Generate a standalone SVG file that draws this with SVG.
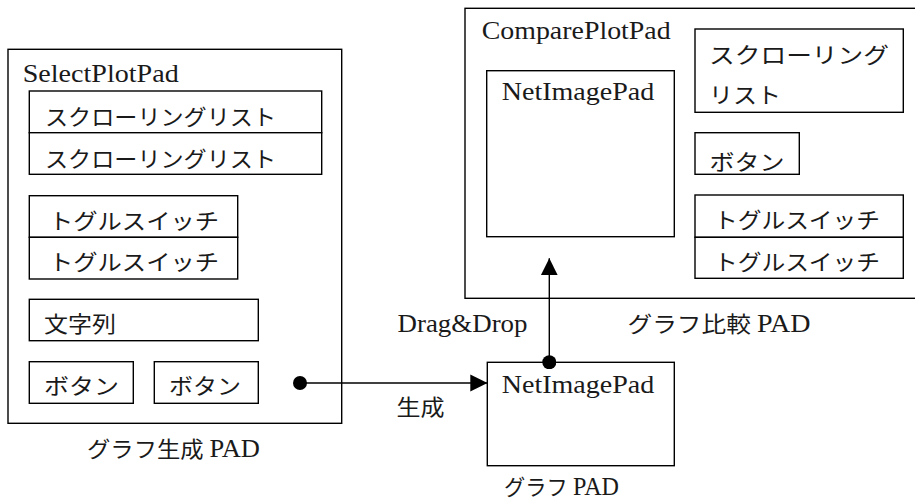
<svg xmlns="http://www.w3.org/2000/svg" width="915" height="501" viewBox="0 0 915 501">
  <style>
    .box { fill: #fff; stroke: #000; stroke-width: 1.4; }
    .frame { fill: none; stroke: #000; stroke-width: 1.4; }
    .wire { fill: none; stroke: #000; stroke-width: 1.4; }
    text { font-family: "Liberation Serif", "Noto Sans CJK JP", serif; font-size: 22px; fill: #1a1a1a; }
    .lat { font-size: 25px; }
  </style>
  <defs>
    <marker id="tip" viewBox="0 0 10 10" refX="10" refY="5" markerWidth="17" markerHeight="18" markerUnits="userSpaceOnUse" orient="auto">
      <path d="M0,0 L10,5 L0,10 Z" fill="#000"/>
    </marker>
    <marker id="dot" viewBox="0 0 10 10" refX="5" refY="5" markerWidth="14" markerHeight="14" markerUnits="userSpaceOnUse">
      <circle cx="5" cy="5" r="5" fill="#000"/>
    </marker>
  </defs>
  <rect width="915" height="501" fill="#fff"/>

  <!-- graph creation pad -->
  <g id="select-plot-pad">
    <rect class="frame" x="8" y="49.3" width="333.7" height="374"/>
    <text class="lat" x="22.7" y="81.7" textLength="156" lengthAdjust="spacingAndGlyphs">SelectPlotPad</text>
    <g id="scroll-list-1">
      <rect class="box" x="29.3" y="91" width="292.4" height="41.7"/>
      <text x="45" y="125" textLength="231" lengthAdjust="spacingAndGlyphs">スクローリングリスト</text>
    </g>
    <g id="scroll-list-2">
      <rect class="box" x="29.3" y="132.7" width="292.4" height="41.6"/>
      <text x="45" y="166.5" textLength="231" lengthAdjust="spacingAndGlyphs">スクローリングリスト</text>
    </g>
    <g id="toggle-1">
      <rect class="box" x="29.3" y="195.7" width="208.4" height="41.6"/>
      <text x="49" y="229" textLength="170" lengthAdjust="spacingAndGlyphs">トグルスイッチ</text>
    </g>
    <g id="toggle-2">
      <rect class="box" x="29.3" y="237.3" width="208.4" height="41.7"/>
      <text x="49" y="270" textLength="170" lengthAdjust="spacingAndGlyphs">トグルスイッチ</text>
    </g>
    <g id="string-field">
      <rect class="box" x="29.3" y="299.3" width="229" height="41.4"/>
      <text x="44" y="332" textLength="72" lengthAdjust="spacingAndGlyphs">文字列</text>
    </g>
    <g id="button-1">
      <rect class="box" x="29.3" y="361.7" width="104" height="41.6"/>
      <text x="44" y="394" textLength="75" lengthAdjust="spacingAndGlyphs">ボタン</text>
    </g>
    <g id="button-2">
      <rect class="box" x="154.3" y="361.7" width="104" height="41.6"/>
      <text x="169" y="394" textLength="72" lengthAdjust="spacingAndGlyphs">ボタン</text>
    </g>
    <text x="87" y="456.7" textLength="173" lengthAdjust="spacingAndGlyphs">グラフ生成 <tspan class="lat">PAD</tspan></text>
  </g>

  <!-- graph comparison pad -->
  <g id="compare-plot-pad">
    <rect class="frame" x="465" y="8.3" width="460" height="290"/>
    <text class="lat" x="481.7" y="39.3" textLength="189" lengthAdjust="spacingAndGlyphs">ComparePlotPad</text>
    <g id="compare-net-image-pad">
      <rect class="box" x="486.7" y="70.7" width="187.6" height="166"/>
      <text class="lat" x="501.7" y="100" textLength="152.6" lengthAdjust="spacingAndGlyphs">NetImagePad</text>
    </g>
    <g id="compare-scroll-list">
      <rect class="box" x="695" y="29" width="208.3" height="83.3"/>
      <text x="709" y="63" textLength="180" lengthAdjust="spacingAndGlyphs">スクローリング</text>
      <text x="709" y="103" textLength="72" lengthAdjust="spacingAndGlyphs">リスト</text>
    </g>
    <g id="compare-button">
      <rect class="box" x="695" y="132.7" width="104.3" height="41.6"/>
      <text x="709.5" y="170" textLength="75" lengthAdjust="spacingAndGlyphs">ボタン</text>
    </g>
    <g id="compare-toggle-1">
      <rect class="box" x="695" y="195" width="208.3" height="42.3"/>
      <text x="714" y="228" textLength="166" lengthAdjust="spacingAndGlyphs">トグルスイッチ</text>
    </g>
    <g id="compare-toggle-2">
      <rect class="box" x="695" y="237.3" width="208.3" height="41"/>
      <text x="714" y="269.5" textLength="166" lengthAdjust="spacingAndGlyphs">トグルスイッチ</text>
    </g>
    <text x="627.5" y="331.7" textLength="183" lengthAdjust="spacingAndGlyphs">グラフ比較 <tspan class="lat">PAD</tspan></text>
  </g>

  <!-- single graph pad -->
  <g id="graph-pad">
    <rect class="box" x="487.3" y="362.3" width="187" height="103.4"/>
    <text class="lat" x="501.7" y="393.3" textLength="152.6" lengthAdjust="spacingAndGlyphs">NetImagePad</text>
    <text x="504" y="495" textLength="115" lengthAdjust="spacingAndGlyphs">グラフ <tspan class="lat">PAD</tspan></text>
  </g>

  <!-- connectors -->
  <g id="connectors">
    <g id="create-link">
      <line class="wire" x1="300" y1="383" x2="487.3" y2="383" marker-start="url(#dot)" marker-end="url(#tip)"/>
      <text x="396.5" y="415" textLength="48" lengthAdjust="spacingAndGlyphs">生成</text>
    </g>
    <g id="drag-drop-link">
      <line class="wire" x1="549.3" y1="362.3" x2="549.3" y2="258.3" marker-start="url(#dot)" marker-end="url(#tip)"/>
      <text class="lat" x="397.5" y="331.7" textLength="130" lengthAdjust="spacingAndGlyphs">Drag&amp;Drop</text>
    </g>
  </g>
</svg>
